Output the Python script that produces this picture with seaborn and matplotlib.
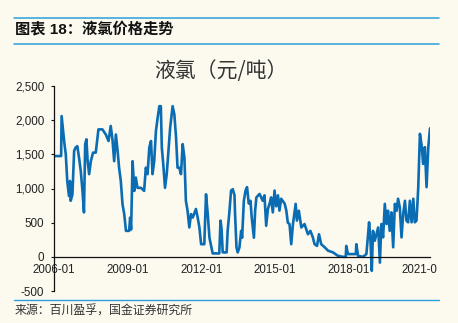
import numpy as np
import pandas as pd
import matplotlib
matplotlib.use("Agg")
import matplotlib.pyplot as plt
import seaborn as sns
from matplotlib.ticker import FuncFormatter
from matplotlib.lines import Line2D
from matplotlib.transforms import Bbox, TransformedBbox

# ---- data (decimal year, price in 元/吨) ----
years = [
    2006.00, 2006.29, 2006.31, 2006.37, 2006.42, 2006.48, 2006.54, 2006.61, 2006.65, 2006.68,
    2006.75, 2006.82, 2006.88, 2006.95, 2007.02, 2007.09, 2007.16, 2007.22, 2007.27, 2007.32,
    2007.37, 2007.43, 2007.50, 2007.59, 2007.70, 2007.81, 2007.97, 2008.11, 2008.22, 2008.31,
    2008.38, 2008.45, 2008.52, 2008.59, 2008.65, 2008.72, 2008.79, 2008.86, 2008.93, 2009.06,
    2009.10, 2009.14, 2009.20, 2009.27, 2009.33, 2009.40, 2009.54, 2009.67, 2009.74, 2009.81,
    2009.88, 2009.95, 2010.01, 2010.08, 2010.15, 2010.22, 2010.29, 2010.35, 2010.39, 2010.45,
    2010.52, 2010.59, 2010.67, 2010.73, 2010.83, 2010.90, 2010.97, 2011.03, 2011.10, 2011.17,
    2011.24, 2011.31, 2011.37, 2011.44, 2011.51, 2011.58, 2011.65, 2011.78, 2011.85, 2011.92,
    2011.99, 2012.12, 2012.19, 2012.26, 2012.33, 2012.46, 2012.73, 2012.78, 2012.82, 2012.87,
    2013.03, 2013.07, 2013.14, 2013.21, 2013.28, 2013.35, 2013.37, 2013.43, 2013.48, 2013.55,
    2013.62, 2013.66, 2013.73, 2013.80, 2013.86, 2013.93, 2014.00, 2014.05, 2014.14, 2014.19,
    2014.24, 2014.37, 2014.50, 2014.57, 2014.64, 2014.71, 2014.78, 2014.84, 2014.91, 2014.98,
    2015.05, 2015.12, 2015.18, 2015.25, 2015.39, 2015.46, 2015.52, 2015.59,
    2015.66, 2015.73, 2015.84, 2015.89, 2015.97, 2016.07, 2016.20, 2016.34, 2016.44, 2016.54,
    2016.61, 2016.71, 2016.79, 2016.88, 2017.02, 2017.16, 2017.36, 2017.56, 2017.77, 2017.88,
    2017.90, 2017.97, 2018.18, 2018.29, 2018.31, 2018.38, 2018.58, 2018.72, 2018.83, 2018.88,
    2018.94, 2018.99, 2019.06, 2019.13, 2019.20, 2019.27, 2019.33, 2019.40, 2019.47, 2019.54,
    2019.60, 2019.67, 2019.74, 2019.81, 2019.88, 2019.95, 2020.01, 2020.08, 2020.15, 2020.22,
    2020.29, 2020.35, 2020.42, 2020.49, 2020.56, 2020.63, 2020.69, 2020.76, 2020.83, 2020.90,
    2020.97, 2021.03, 2021.10, 2021.17, 2021.24, 2021.31,
]
prices = [
    1475, 1475, 2060, 1840, 1670, 1500, 1110, 890, 1110, 820,
    915, 1550, 1600, 1620, 1450, 1255, 965, 650, 1650, 1720,
    1400, 1210, 1400, 1525, 1525, 1865, 1865, 1790, 1695, 1915,
    1720, 1400, 1790, 1550, 1305, 1110, 770, 625, 380, 380,
    575, 400, 1400, 965, 1160, 1010, 1010, 965, 1305, 1210,
    1600, 1695, 1210, 1400, 1840, 2035, 2205, 2205, 1600, 1350,
    1010, 1210, 1600, 1890, 2205, 2085, 1745, 1305, 1305, 1210,
    1650, 1450, 820, 670, 430, 625, 575, 700, 575, 430,
    185, 185, 915, 625, 280, 50, 50, 530, 420, 65,
    65, 380, 650, 970, 990, 900, 650, 137, 65, 137,
    380, 280, 820, 970, 1020, 780, 820, 578, 280, 676,
    870, 920, 820, 900, 455, 700, 780, 870, 650, 970,
    740, 900, 676, 850, 780, 676, 500, 480,
    185, 480, 775, 530, 675, 430, 480, 330, 380, 285,
    185, 160, 330, 185, 140, 90, 65, 15, 0, 0,
    160, 40, 40, 40, 185, 15, 0, 40, 505, 285,
    -205, 380, 235, 330, 430, -85, 480, 285, 775, 480,
    675, 380, 650, 140, 775, 675, 850, 725, 285, 630,
    820, 530, 505, 820, 505, 850, 505, 530, 1000, 1800,
    1630, 1360, 1605, 1020, 1605, 1880,
]
y_ticks = [-500, 0, 500, 1000, 1500, 2000, 2500]
x_tick_labels = ["2006-01", "2009-01", "2012-01", "2015-01", "2018-01", "2021-01"]

header_title = "图表 18：液氯价格走势"
chart_title = "液氯（元/吨）"
source_text = "来源：百川盈孚，国金证券研究所"

# ---- styling ----
bg = "#fcf9ef"
line_color = "#0a6db4"
rule_color = "#2a9fdc"

sns.set_theme(style="white")
plt.rcParams["font.family"] = ["Liberation Sans", "Noto Sans CJK SC", "DejaVu Sans"]

dates = pd.to_datetime("2006-01-01") + pd.to_timedelta(
    (np.array(years) - 2006.0) * 365.25, unit="D")
df = pd.DataFrame({"date": dates, "price": prices})

W, H = 458, 323
fig = plt.figure(figsize=(W / 100, H / 100), dpi=100, facecolor=bg)
ax = fig.add_axes([54 / W, 1 - 291 / H, (430 - 54) / W, (291 - 86) / H])
ax.set_facecolor(bg)

sns.lineplot(data=df, x="date", y="price", ax=ax, color=line_color,
             linewidth=1.9, sort=False)

ax.set_ylim(-500, 2500)
ax.set_xlim(df["date"].min(), df["date"].max())
ax.set_yticks(y_ticks)
ax.yaxis.set_major_formatter(FuncFormatter(lambda v, p: f"{int(v):,}"))
ax.set_xticks(pd.to_datetime(x_tick_labels))
ax.set_xticklabels(x_tick_labels)
ax.set_xlabel("")
ax.set_ylabel("")
ax.grid(False)

for s in ["top", "right"]:
    ax.spines[s].set_visible(False)
ax.spines["bottom"].set_position(("data", 0))
for s in ["left", "bottom"]:
    ax.spines[s].set_color("#111111")
    ax.spines[s].set_linewidth(0.9)

ax.tick_params(axis="y", left=True, direction="out", length=2, width=0.8,
               pad=5, labelsize=8.4, labelcolor="#222222", color="#111111")
ax.tick_params(axis="x", bottom=False, length=0, pad=5.5, labelsize=8.3,
               labelcolor="#222222")

clip = TransformedBbox(Bbox([[0, 0], [437 / W, 1]]), fig.transFigure)
for lab in ax.get_xticklabels():
    lab.set_clip_on(True)
    lab.set_clip_box(clip)

fig.text(221 / W, 1 - 71 / H, chart_title, fontsize=15, color="#333333",
         ha="center", va="center", family=["Noto Sans CJK SC", "DejaVu Sans"])

# header / footer rules and texts
for yy in (17.5, 44):
    fig.add_artist(Line2D([14 / W, 439 / W], [1 - yy / H, 1 - yy / H],
                          color=rule_color, linewidth=1.1))
fig.add_artist(Line2D([14 / W, 439 / W], [1 - 299.5 / H, 1 - 299.5 / H],
                      color=rule_color, linewidth=1.0))
fig.text(15 / W, 1 - 30 / H, header_title, fontsize=11, fontweight="bold",
         va="center", ha="left", color="#111111",
         family=["Liberation Sans", "Noto Sans CJK SC"])
fig.text(15 / W, 1 - 311 / H, source_text, fontsize=8.6, va="center",
         ha="left", color="#333333", family=["Noto Sans CJK SC", "DejaVu Sans"])

fig.savefig("out.png", dpi=100, facecolor=bg)
